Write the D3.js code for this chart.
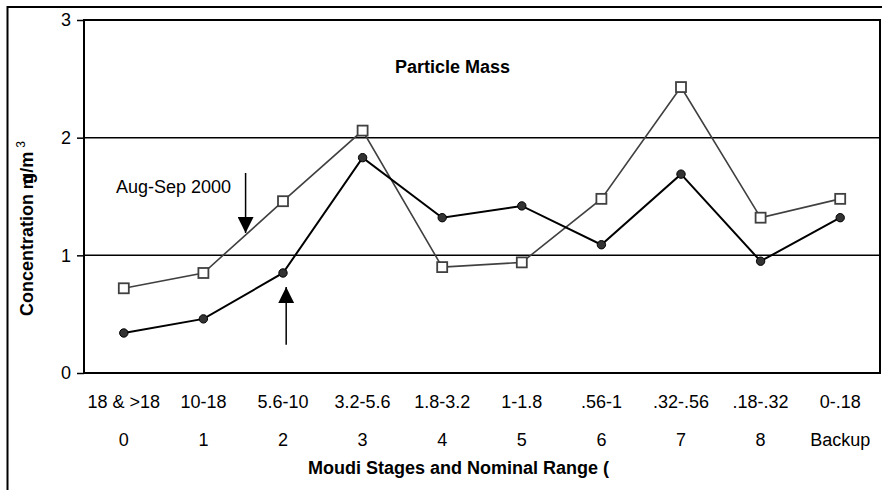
<!DOCTYPE html>
<html>
<head>
<meta charset="utf-8">
<script src="https://cdn.jsdelivr.net/npm/d3@7"></script>
<style>
  body { margin: 0; background: #fff; }
  svg { display: block; font-family: "Liberation Sans", Arial, sans-serif; }
</style>
</head>
<body>
<svg id="chart"></svg>
<script>
// data
const stages = ["0", "1", "2", "3", "4", "5", "6", "7", "8", "Backup"];
const ranges = ["18 & >18", "10-18", "5.6-10", "3.2-5.6", "1.8-3.2", "1-1.8", ".56-1", ".32-.56", ".18-.32", "0-.18"];
const squareSeries = [0.72, 0.85, 1.46, 2.06, 0.90, 0.94, 1.48, 2.43, 1.32, 1.48];
const dotSeries = [0.34, 0.46, 0.85, 1.83, 1.32, 1.42, 1.09, 1.69, 0.95, 1.32];
const yTicks = [0, 1, 2, 3];
// arrows: [stage position, value from, value to]
const arrows = [[1.53, 1.70, 1.19], [2.04, 0.24, 0.73]];

const W = 882, H = 490;
const margin = { top: 20, right: 2, bottom: 117, left: 84 };
const w = W - margin.left - margin.right;
const h = H - margin.top - margin.bottom;

const svg = d3.select('#chart')
    .attr('width', W)
    .attr('height', H);

// outer frame (runs off the bottom / right of the picture)
svg.append('rect')
    .attr('x', 7.5).attr('y', 7)
    .attr('width', W + 20).attr('height', H + 20)
    .attr('fill', 'none')
    .attr('stroke', '#000')
    .attr('stroke-width', 2);

const g = svg.append('g')
    .attr('transform', `translate(${margin.left}, ${margin.top})`);

const xScale = d3.scaleBand()
    .domain(d3.range(stages.length))
    .range([0, w]);

const yScale = d3.scaleLinear()
    .domain([0, 3])
    .range([h, 0]);

const xc = i => xScale(i) + xScale.bandwidth() / 2;
const xAt = v => xScale.step() * (v + 0.5);

// gridlines
g.selectAll('.grid')
    .data([1, 2])
    .join('line')
    .attr('x1', 0).attr('x2', w)
    .attr('y1', d => yScale(d)).attr('y2', d => yScale(d))
    .attr('stroke', '#000')
    .attr('stroke-width', 1.5);

// plot border
g.append('rect')
    .attr('width', w).attr('height', h)
    .attr('fill', 'none')
    .attr('stroke', '#000')
    .attr('stroke-width', 2);

const yAxis = d3.axisLeft(yScale)
    .tickValues(yTicks)
    .tickSize(7)
    .tickPadding(6)
    .tickFormat(d3.format('d'));

g.append('g')
    .call(yAxis)
    .call(a => a.select('.domain').remove())
    .call(a => a.selectAll('line').attr('stroke-width', 1.5))
    .call(a => a.selectAll('text')
        .attr('font-size', 18)
        .attr('font-family', '"Liberation Sans", Arial, sans-serif')
        .attr('fill', '#000'));

// x labels, two rows
const xAxis = d3.axisBottom(xScale)
    .tickSize(0)
    .tickPadding(22)
    .tickFormat(i => ranges[i]);

g.append('g')
    .attr('transform', `translate(0, ${h})`)
    .call(xAxis)
    .call(a => a.select('.domain').remove())
    .call(a => a.selectAll('text')
        .attr('font-size', 18)
        .attr('font-family', '"Liberation Sans", Arial, sans-serif')
        .attr('fill', '#000'));

const xAxis2 = d3.axisBottom(xScale)
    .tickSize(0)
    .tickPadding(60)
    .tickFormat(i => stages[i]);

g.append('g')
    .attr('transform', `translate(0, ${h})`)
    .call(xAxis2)
    .call(a => a.select('.domain').remove())
    .call(a => a.selectAll('text')
        .attr('font-size', 18)
        .attr('font-family', '"Liberation Sans", Arial, sans-serif')
        .attr('fill', '#000'));

const line = d3.line()
    .x((d, i) => xc(i))
    .y(d => yScale(d));

g.append('path')
    .datum(squareSeries)
    .attr('d', line)
    .attr('fill', 'none')
    .attr('stroke', '#404040')
    .attr('stroke-width', 1.6);

g.append('path')
    .datum(dotSeries)
    .attr('d', line)
    .attr('fill', 'none')
    .attr('stroke', '#000')
    .attr('stroke-width', 2);

g.selectAll('.sq')
    .data(squareSeries)
    .join('rect')
    .attr('x', (d, i) => xc(i) - 5)
    .attr('y', d => yScale(d) - 5)
    .attr('width', 10).attr('height', 10)
    .attr('fill', '#fff')
    .attr('stroke', '#404040')
    .attr('stroke-width', 1.8);

g.selectAll('.dot')
    .data(dotSeries)
    .join('ellipse')
    .attr('cx', (d, i) => xc(i))
    .attr('cy', d => yScale(d))
    .attr('rx', 4.2).attr('ry', 4.2)
    .attr('fill', '#333')
    .attr('stroke', '#000')
    .attr('stroke-width', 1);

// arrows
svg.append('defs').append('marker')
    .attr('id', 'head')
    .attr('viewBox', '0 0 10 10')
    .attr('refX', 10).attr('refY', 5)
    .attr('markerWidth', 16).attr('markerHeight', 16)
    .attr('markerUnits', 'userSpaceOnUse')
    .attr('orient', 'auto')
    .append('path')
    .attr('d', 'M0,0 L10,5 L0,10 Z')
    .attr('fill', '#000');

g.selectAll('.arrow')
    .data(arrows)
    .join('line')
    .attr('x1', d => xAt(d[0])).attr('x2', d => xAt(d[0]))
    .attr('y1', d => yScale(d[1])).attr('y2', d => yScale(d[2]))
    .attr('stroke', '#000')
    .attr('stroke-width', 1.5)
    .attr('marker-end', 'url(#head)');

// texts
svg.append('text')
    .attr('x', 395).attr('y', 73)
    .attr('font-size', 18)
    .attr('font-weight', 'bold')
    .text('Particle Mass');

svg.append('text')
    .attr('x', 116).attr('y', 193)
    .attr('font-size', 18)
    .text('Aug-Sep 2000');

svg.append('text')
    .attr('x', 308).attr('y', 474)
    .attr('font-size', 18)
    .attr('font-weight', 'bold')
    .text('Moudi Stages and Nominal Range (');

const yl = svg.append('text')
    .attr('transform', 'translate(33, 316) rotate(-90)')
    .attr('font-size', 18)
    .attr('font-weight', 'bold');
yl.append('tspan').text('Concentration  ');
yl.append('tspan').attr('font-size', 16).text('m');
yl.append('tspan').attr('dx', -9).text('g/m');
yl.append('tspan').attr('dx', 4).attr('dy', -8).attr('font-size', 12).attr('font-weight', 'normal').text('3');
</script>
</body>
</html>
